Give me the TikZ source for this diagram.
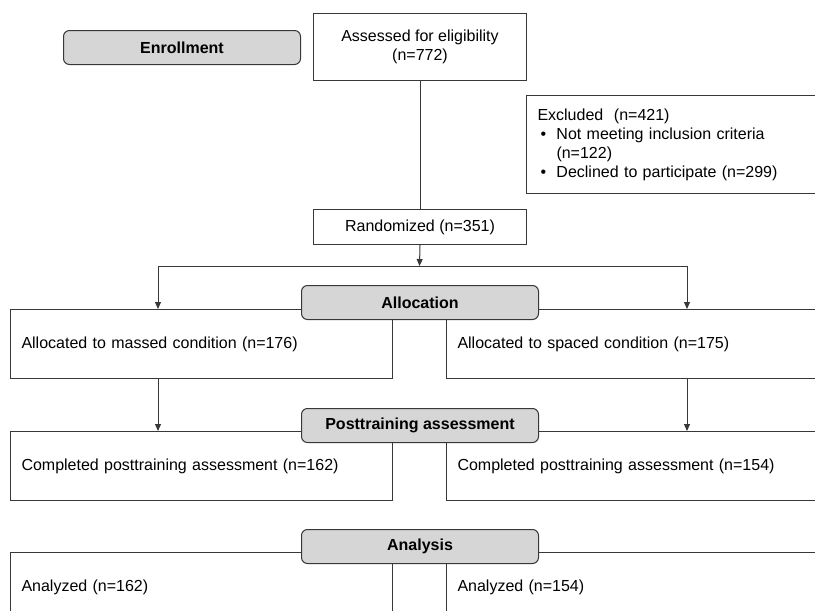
\documentclass[tikz,border=0pt]{standalone}
\usepackage{fontspec}
\setmainfont{Liberation Sans}
\usetikzlibrary{arrows.meta}
\definecolor{stagegray}{HTML}{D6D6D6}
\definecolor{linec}{HTML}{383838}
\begin{document}
\begin{tikzpicture}[x=1pt,y=-1pt,
  line/.style={draw=linec, line width=1pt},
  box/.style={line, rectangle, anchor=north west, inner sep=0pt, font=\fontsize{16}{19}\selectfont},
  stage/.style={line, fill=stagegray, rounded corners=6pt, anchor=north west, inner sep=0pt,
     minimum width=237pt, minimum height=34pt, font=\bfseries\fontsize{16}{19}\selectfont},
  arr/.style={line, -{Triangle[length=7pt,width=6pt]}}]
\useasboundingbox (0,0) rectangle (815,611);
\clip (0,0) rectangle (815,611);
% main column
\node[box, minimum width=213pt, minimum height=67pt, align=center] (assess) at (313,13)
  {Assessed for eligibility\\(n=772)};
\node[box, minimum width=314pt, minimum height=98pt, text width=292pt, inner xsep=11pt, align=left] (excl) at (526,95)
  {Excluded\ \ (n=421)\\
   \hspace*{3pt}\makebox[16pt][l]{\textbullet}Not meeting inclusion criteria\\
   \hspace*{19pt}(n=122)\\
   \hspace*{3pt}\makebox[16pt][l]{\textbullet}Declined to participate (n=299)};
\node[box, minimum width=213pt, minimum height=35pt, align=center] (rand) at (313,209)
  {Randomized (n=351)};
% allocation
\node[box, minimum width=382pt, minimum height=69pt, text width=360pt, inner xsep=11pt, align=left] (mass) at (10,309)
  {Allocated to massed condition (n=176)};
\node[box, minimum width=394pt, minimum height=69pt, text width=372pt, inner xsep=10pt, align=left] (space) at (446,309)
  {Allocated to spaced condition (n=175)};
% posttraining
\node[box, minimum width=382pt, minimum height=69pt, text width=360pt, inner xsep=11pt, align=left] (comp1) at (10,431)
  {Completed posttraining assessment (n=162)};
\node[box, minimum width=394pt, minimum height=69pt, text width=372pt, inner xsep=10pt, align=left] (comp2) at (446,431)
  {Completed posttraining assessment (n=154)};
% analysis
\node[box, minimum width=382pt, minimum height=70pt, text width=360pt, inner xsep=11pt, align=left] (ana1) at (10,552)
  {Analyzed (n=162)};
\node[box, minimum width=394pt, minimum height=70pt, text width=372pt, inner xsep=10pt, align=left] (ana2) at (446,552)
  {Analyzed (n=154)};
% connectors
\coordinate (split) at (419.5,266);
\coordinate (lt) at (158,266);
\coordinate (rt) at (687,266);
\draw[line] (assess.south) -- (rand.north);
\draw[arr] (rand.south) -- (split);
\draw[line] (lt) -- (rt);
\draw[arr] (lt) -- (lt |- mass.north);
\draw[arr] (rt) -- (rt |- space.north);
\draw[arr] (lt |- mass.south) -- (lt |- comp1.north);
\draw[arr] (rt |- space.south) -- (rt |- comp2.north);
% stage labels
\node[stage] (enr) at (63,30) {Enrollment};
\node[stage] (alloc) at (301,285) {Allocation};
\node[stage] (post) at (301,408) {Posttraining assessment};
\node[stage] (anal) at (301,529) {Analysis};
\end{tikzpicture}
\end{document}
